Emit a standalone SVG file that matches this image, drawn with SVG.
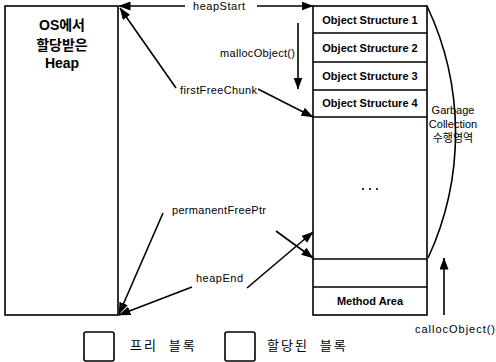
<svg xmlns="http://www.w3.org/2000/svg" width="496" height="362" viewBox="0 0 496 362">
<style>
.box{fill:#fff;stroke:#000;stroke-width:1.6}
.ln{stroke:#000;stroke-width:1.6;fill:none}
.lbl{font-family:"Liberation Sans",Arial,sans-serif;font-size:11px;fill:#000}
.obj{font-family:"Liberation Sans",Arial,sans-serif;font-size:11px;font-weight:bold;fill:#000}
.big{font-family:"Liberation Sans","Noto Sans CJK KR",sans-serif;font-size:14px;font-weight:bold;fill:#000;text-anchor:middle}
.kr{font-family:"Noto Sans CJK KR",sans-serif;font-size:13px;fill:#000}
.leg{letter-spacing:2px;word-spacing:6px}
.arr{stroke:#000;stroke-width:1.6;fill:none;marker-end:url(#ah)}
</style>
<defs>
<marker id="ah" viewBox="0 0 12 9" refX="11.5" refY="4.5" markerWidth="12" markerHeight="9" markerUnits="userSpaceOnUse" orient="auto">
<path d="M0,0 L12,4.5 L0,9 Z" fill="#000"/>
</marker>
</defs>
<g id="heap-os">
<rect class="box" x="5" y="6" width="113" height="309"/>
<text class="big" x="62" y="30">OS에서</text>
<text class="big" x="62" y="50">할당받은</text>
<text class="big" x="62" y="68">Heap</text>
</g>
<g id="heap-column">
<rect class="box" x="313" y="6" width="114" height="309"/>
<line class="ln" x1="313" y1="33" x2="427" y2="33"/>
<line class="ln" x1="313" y1="62" x2="427" y2="62"/>
<line class="ln" x1="313" y1="90" x2="427" y2="90"/>
<line class="ln" x1="313" y1="117" x2="427" y2="117"/>
<line class="ln" x1="313" y1="259" x2="427" y2="259"/>
<line class="ln" x1="313" y1="287" x2="427" y2="287"/>
</g>
<g id="obj1"><text class="obj" x="370" y="24" text-anchor="middle">Object Structure 1</text></g>
<g id="obj2"><text class="obj" x="370" y="52" text-anchor="middle">Object Structure 2</text></g>
<g id="obj3"><text class="obj" x="370" y="80" text-anchor="middle">Object Structure 3</text></g>
<g id="obj4"><text class="obj" x="370" y="107" text-anchor="middle">Object Structure 4</text></g>
<g id="dots">
<circle cx="363" cy="189" r="1.1"/><circle cx="370" cy="189" r="1.1"/><circle cx="377" cy="189" r="1.1"/>
</g>
<g id="method-area"><text class="obj" x="370" y="305" text-anchor="middle">Method Area</text></g>
<g id="gc-region">
<path class="ln" d="M427,6 A297,297 0 0 1 428,258"/>
<text class="lbl" x="453" y="114" text-anchor="middle">Garbage</text>
<text class="lbl" x="453" y="128" text-anchor="middle">Collection</text>
<text class="kr" x="453" y="142" text-anchor="middle" style="font-size:11px">수행영역</text>
</g>
<g id="labels">
<text class="lbl" x="193" y="10" textLength="52">heapStart</text>
<text class="lbl" x="220" y="57" textLength="75">mallocObject()</text>
<text class="lbl" x="180" y="94" textLength="77">firstFreeChunk</text>
<text class="lbl" x="172" y="214" textLength="94">permanentFreePtr</text>
<text class="lbl" x="196" y="282" textLength="47">heapEnd</text>
<text class="lbl" x="415" y="333" textLength="80">callocObject()</text>
</g>
<g id="connectors">
<line class="arr" x1="185" y1="6" x2="119" y2="6"/>
<line class="arr" x1="257" y1="6" x2="313" y2="6"/>
<line class="arr" x1="298" y1="23" x2="298" y2="89"/>
<line class="arr" x1="176" y1="88" x2="120" y2="8"/>
<line class="arr" x1="258" y1="89" x2="313" y2="117"/>
<line class="arr" x1="163" y1="213" x2="119" y2="314"/>
<line class="arr" x1="192" y1="287" x2="119" y2="315"/>
<line class="arr" x1="276" y1="231" x2="313" y2="258"/>
<line class="arr" x1="247" y1="288" x2="313" y2="232"/>
<line class="arr" x1="444" y1="315" x2="444" y2="258"/>
</g>
<g id="legend">
<rect class="box" x="84" y="332" width="30" height="29" rx="2"/>
<text class="kr leg" x="130" y="350">프리 블록</text>
<rect class="box" x="225" y="332" width="30" height="29" rx="2"/>
<text class="kr leg" x="267" y="350">할당된 블록</text>
</g>
</svg>
